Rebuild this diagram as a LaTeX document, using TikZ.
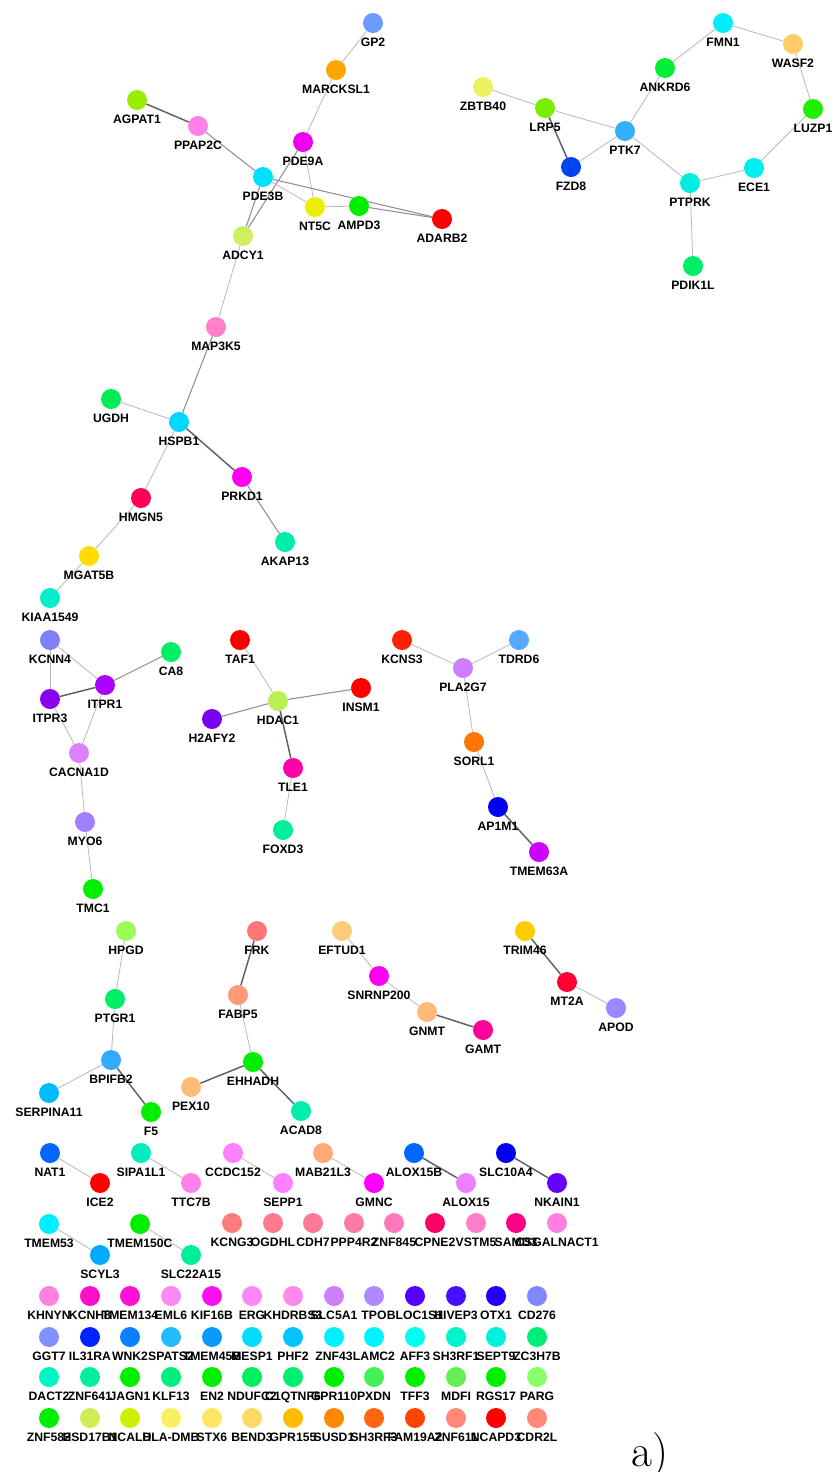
\documentclass[tikz,border=0pt]{standalone}
\usepackage{fontspec}
\newfontfamily\lblfont{Liberation Sans}
\usetikzlibrary{backgrounds}
\definecolor{elt}{HTML}{B8B8BC}
\definecolor{emd}{HTML}{8E8E9A}
\definecolor{edk}{HTML}{5E5E70}
\newcommand{\gnode}[5]{\definecolor{col#1}{HTML}{#5}\node[gene=col#1,label={[lbl]below:#2}] (#1) at (#3,#4) {};}
\begin{document}
\begin{tikzpicture}[x=0.75pt,y=-0.75pt,
  gene/.style={circle,fill=#1,minimum size=15pt,inner sep=0pt,outer sep=0pt},
  lbl/.style={font=\lblfont\bfseries\fontsize{9.15}{10}\selectfont,inner sep=0pt,text=black},
  label distance=3.6pt,
  lt/.style={draw=elt,line width=0.6pt},
  md/.style={draw=emd,line width=0.8pt},
  dk/.style={draw=edk,line width=1.1pt}]
\useasboundingbox (0,0) rectangle (833,1472);
% ---- top left cluster
\gnode{GP2}{GP2}{373}{23}{6B9BFF}
\gnode{MARCKSL1}{MARCKSL1}{336}{70}{FFA500}
\gnode{AGPAT1}{AGPAT1}{137}{100}{99EE00}
\gnode{PPAP2C}{PPAP2C}{198}{126}{FF80E8}
\gnode{PDE9A}{PDE9A}{303}{142}{EE00EE}
\gnode{PDE3B}{PDE3B}{263}{177}{00E0FF}
\gnode{NT5C}{NT5C}{315}{207}{EEEE00}
\gnode{AMPD3}{AMPD3}{359}{206}{00EE00}
\gnode{ADARB2}{ADARB2}{442}{219}{FF0000}
\gnode{ADCY1}{ADCY1}{243}{236}{CCF060}
\gnode{MAPKK}{MAP3K5}{216}{327}{FF80C8}
\gnode{UGDH}{UGDH}{111}{399}{00EE55}
\gnode{HSPB1}{HSPB1}{179}{422}{00D8FF}
\gnode{PRKD1}{PRKD1}{242}{477}{FF00EE}
\gnode{HMGN5}{HMGN5}{141}{498}{FF0055}
\gnode{AKAP13}{AKAP13}{285}{542}{00EEAA}
\gnode{MGAT5B}{MGAT5B}{89}{556}{FFDD00}
\gnode{KIAA1549}{KIAA1549}{50}{598}{00EECC}
% ---- top right cluster
\gnode{FMN1}{FMN1}{723}{23}{00EEFF}
\gnode{WASF2}{WASF2}{793}{44}{FFCC66}
\gnode{ANKRD6}{ANKRD6}{665}{68}{00EE33}
\gnode{ZBTB40}{ZBTB40}{483}{87}{EEF060}
\gnode{LRP5}{LRP5}{545}{108}{77EE00}
\gnode{LUZP1}{LUZP1}{813}{109}{22EE00}
\gnode{PTK7}{PTK7}{625}{131}{33B0FF}
\gnode{FZD8}{FZD8}{571}{167}{0044EE}
\gnode{ECE1}{ECE1}{754}{168}{00EEEE}
\gnode{PTPRK}{PTPRK}{690}{183}{00EEDD}
\gnode{PDIK1L}{PDIK1L}{693}{266}{00EE66}
% ---- middle
\gnode{KCNN4}{KCNN4}{50}{640}{8080FF}
\gnode{CA8}{CA8}{171}{652}{00EE66}
\gnode{ITPR1}{ITPR1}{105}{685}{AA00FF}
\gnode{ITPR3}{ITPR3}{50}{699}{8800EE}
\gnode{CACNA1D}{CACNA1D}{79}{753}{DD80FF}
\gnode{MYO6}{MYO6}{85}{822}{A080FF}
\gnode{TMC1}{TMC1}{93}{889}{00EE00}
\gnode{TAF1}{TAF1}{240}{640}{FF0000}
\gnode{HDAC1}{HDAC1}{278}{701}{BBF055}
\gnode{INSM1}{INSM1}{361}{688}{FF0000}
\gnode{H2AFY2}{H2AFY2}{212}{719}{7700EE}
\gnode{TLE1}{TLE1}{293}{768}{FF00AA}
\gnode{FOXD3}{FOXD3}{283}{830}{00EE99}
\gnode{KCNS3}{KCNS3}{402}{640}{FF2200}
\gnode{TDRD6}{TDRD6}{519}{640}{55AAFF}
\gnode{PLA2G7}{PLA2G7}{463}{668}{CC80FF}
\gnode{SORL1}{SORL1}{474}{742}{FF7700}
\gnode{AP1M1}{AP1M1}{498}{807}{0000EE}
\gnode{TMEM63A}{TMEM63A}{539}{852}{CC00FF}
% ---- lower
\gnode{HPGD}{HPGD}{126}{931}{99FF55}
\gnode{PTGR1}{PTGR1}{115}{999}{00EE66}
\gnode{BPIFB2}{BPIFB2}{111}{1060}{33AAFF}
\gnode{SERPINA11}{SERPINA11}{49}{1093}{00BBFF}
\gnode{F5}{F5}{151}{1112}{00EE00}
\gnode{FRK}{FRK}{257}{931}{FF7777}
\gnode{FABP5}{FABP5}{238}{995}{FF9977}
\gnode{EHHADH}{EHHADH}{253}{1062}{00EE00}
\gnode{PEX10}{PEX10}{191}{1087}{FFBB77}
\gnode{ACAD8}{ACAD8}{301}{1111}{00EEAA}
\gnode{EFTUD1}{EFTUD1}{342}{931}{FFCC77}
\gnode{SNRNP200}{SNRNP200}{379}{976}{FF00EE}
\gnode{GNMT}{GNMT}{427}{1012}{FFBB77}
\gnode{GAMT}{GAMT}{483}{1030}{FF0099}
\gnode{TRIM46}{TRIM46}{525}{931}{FFCC00}
\gnode{MT2A}{MT2A}{567}{982}{FF0033}
\gnode{APOD}{APOD}{616}{1008}{9988FF}
% ---- pairs
\gnode{NAT1}{NAT1}{50}{1153}{0066FF}
\gnode{ICE2}{ICE2}{100}{1183}{FF0000}
\gnode{SIPA1L1}{SIPA1L1}{141}{1153}{00EEBB}
\gnode{TTC7B}{TTC7B}{191}{1183}{FF80E8}
\gnode{CCDC152}{CCDC152}{233}{1153}{FF80FF}
\gnode{SEPP1}{SEPP1}{283}{1183}{FF80FF}
\gnode{MAB21L3}{MAB21L3}{323}{1153}{FFAA77}
\gnode{GMNC}{GMNC}{374}{1183}{FF00FF}
\gnode{ALOX15B}{ALOX15B}{414}{1153}{0066FF}
\gnode{ALOX15}{ALOX15}{466}{1183}{EE80FF}
\gnode{SLC10A4}{SLC10A4}{506}{1153}{0000EE}
\gnode{NKAIN1}{NKAIN1}{557}{1183}{6600FF}
\gnode{TMEM53}{TMEM53}{49}{1224}{00EEFF}
\gnode{SCYL3}{SCYL3}{100}{1255}{00AAFF}
\gnode{TMEM150C}{TMEM150C}{140}{1224}{00EE00}
\gnode{SLC22A15}{SLC22A15}{191}{1255}{00EE99}
% ---- pink row
\gnode{KCNG3}{KCNG3}{232}{1223}{FF7A7A}
\gnode{OGDHL}{OGDHL}{273}{1223}{FF7A8A}
\gnode{CDH7}{CDH7}{313}{1223}{FF7A95}
\gnode{PPP4R2}{PPP4R2}{354}{1223}{FF7AA5}
\gnode{ZNF845}{ZNF845}{394}{1223}{FF78BB}
\gnode{CPNE2}{CPNE2}{435}{1223}{FF0066}
\gnode{VSTM5}{VSTM5}{476}{1223}{FF80C8}
\gnode{SAMD3}{SAMD3}{516}{1223}{FF0088}
\gnode{CSGALNACT1}{CSGALNACT1}{557}{1223}{FF80E0}
% ---- grid row 1
\gnode{KHNYN}{KHNYN}{49}{1296}{FF80E0}
\gnode{KCNH8}{KCNH8}{90}{1296}{FF10C8}
\gnode{TMEM134}{TMEM134}{130}{1296}{FF10D8}
\gnode{EML6}{EML6}{171}{1296}{FF88F0}
\gnode{KIF16B}{KIF16B}{212}{1296}{FF10EE}
\gnode{ERG}{ERG}{252}{1296}{FF88F8}
\gnode{KHDRBS3}{KHDRBS3}{293}{1296}{FF88EE}
\gnode{SLC5A1}{SLC5A1}{334}{1296}{CC80FF}
\gnode{TPO}{TPO}{374}{1296}{B088FF}
\gnode{BLOC1S1}{BLOC1S1}{415}{1296}{5500FF}
\gnode{HIVEP3}{HIVEP3}{456}{1296}{4411FF}
\gnode{OTX1}{OTX1}{496}{1296}{2200FF}
\gnode{CD276}{CD276}{537}{1296}{8088FF}
% ---- grid row 2
\gnode{GGT7}{GGT7}{49}{1337}{8090FF}
\gnode{IL31RA}{IL31RA}{90}{1337}{0022FF}
\gnode{WNK2}{WNK2}{130}{1337}{0A80FF}
\gnode{SPATS2}{SPATS2}{171}{1337}{22BBFF}
\gnode{TMEM45B}{TMEM45B}{212}{1337}{0A99FF}
\gnode{MESP1}{MESP1}{252}{1337}{00DDFF}
\gnode{PHF2}{PHF2}{293}{1337}{00C4FF}
\gnode{ZNF43}{ZNF43}{334}{1337}{00F0FF}
\gnode{LAMC2}{LAMC2}{374}{1337}{00F4FF}
\gnode{AFF3}{AFF3}{415}{1337}{00FFEE}
\gnode{SH3RF1}{SH3RF1}{456}{1337}{00F4CC}
\gnode{SEPT9}{SEPT9}{496}{1337}{00F0DD}
\gnode{ZC3H7B}{ZC3H7B}{537}{1337}{00EE77}
% ---- grid row 3
\gnode{DACT2}{DACT2}{49}{1377}{00F4C4}
\gnode{ZNF641}{ZNF641}{90}{1377}{00EEA0}
\gnode{JAGN1}{JAGN1}{130}{1377}{00EE00}
\gnode{KLF13}{KLF13}{171}{1377}{00EE80}
\gnode{EN2}{EN2}{212}{1377}{00EE00}
\gnode{NDUFC2}{NDUFC2}{252}{1377}{00EE60}
\gnode{C1QTNF6}{C1QTNF6}{293}{1377}{00EE70}
\gnode{GPR110}{GPR110}{334}{1377}{00EE00}
\gnode{PXDN}{PXDN}{374}{1377}{44F055}
\gnode{TFF3}{TFF3}{415}{1377}{00EE00}
\gnode{MDFI}{MDFI}{456}{1377}{66EE55}
\gnode{RGS17}{RGS17}{496}{1377}{00EE00}
\gnode{PARG}{PARG}{537}{1377}{88FF66}
% ---- grid row 4
\gnode{ZNF582}{ZNF582}{49}{1418}{00EE00}
\gnode{HSD17B1}{HSD17B1}{90}{1418}{CCEE55}
\gnode{NCALD}{NCALD}{130}{1418}{CCF000}
\gnode{HLADMB}{HLA-DMB}{171}{1418}{F8F060}
\gnode{STX6}{STX6}{212}{1418}{FFE566}
\gnode{BEND3}{BEND3}{252}{1418}{FFD966}
\gnode{GPR155}{GPR155}{293}{1418}{FFBB00}
\gnode{SUSD1}{SUSD1}{334}{1418}{FF8800}
\gnode{SH3RF3}{SH3RF3}{374}{1418}{FF6611}
\gnode{FAM19A2}{FAM19A2}{415}{1418}{FF4400}
\gnode{ZNF611}{ZNF611}{456}{1418}{FF8877}
\gnode{NCAPD3}{NCAPD3}{496}{1418}{FF0000}
\gnode{CDR2L}{CDR2L}{537}{1418}{FF8877}
% ---- panel tag
\node[font=\fontsize{34}{40}\selectfont,anchor=base,inner sep=0pt] (tag) at (650,1466) {a)};
% ---- edges
\begin{scope}[on background layer]
\draw[lt] (GP2) -- (MARCKSL1);
\draw[lt] (MARCKSL1) -- (PDE9A);
\draw[dk] (AGPAT1) -- (PPAP2C);
\draw[md] (PPAP2C) -- (PDE3B);
\draw[lt] (PDE9A) -- (NT5C);
\draw[md] (PDE9A) -- (ADCY1);
\draw[md] (PDE3B) -- (ADCY1);
\draw[lt] (PDE3B) -- (NT5C);
\draw[md] (PDE3B) -- (ADARB2);
\draw[lt] (NT5C) -- (AMPD3);
\draw[md] (AMPD3) -- (ADARB2);
\draw[lt] (ADCY1) -- (MAPKK);
\draw[md] (MAPKK) -- (HSPB1);
\draw[lt] (UGDH) -- (HSPB1);
\draw[dk] (HSPB1) -- (PRKD1);
\draw[md] (PRKD1) -- (AKAP13);
\draw[lt] (HSPB1) -- (HMGN5);
\draw[lt] (HMGN5) -- (MGAT5B);
\draw[lt] (MGAT5B) -- (KIAA1549);
\draw[lt] (ZBTB40) -- (LRP5);
\draw[lt] (LRP5) -- (PTK7);
\draw[dk] (LRP5) -- (FZD8);
\draw[lt] (FZD8) -- (PTK7);
\draw[lt] (PTK7) -- (ANKRD6);
\draw[lt] (ANKRD6) -- (FMN1);
\draw[lt] (FMN1) -- (WASF2);
\draw[lt] (WASF2) -- (LUZP1);
\draw[lt] (LUZP1) -- (ECE1);
\draw[lt] (ECE1) -- (PTPRK);
\draw[lt] (PTK7) -- (PTPRK);
\draw[lt] (PTPRK) -- (PDIK1L);
\draw[lt] (KCNN4) -- (ITPR3);
\draw[lt] (KCNN4) -- (ITPR1);
\draw[dk] (ITPR3) -- (ITPR1);
\draw[md] (ITPR1) -- (CA8);
\draw[lt] (ITPR3) -- (CACNA1D);
\draw[lt] (ITPR1) -- (CACNA1D);
\draw[lt] (CACNA1D) -- (MYO6);
\draw[lt] (MYO6) -- (TMC1);
\draw[lt] (TAF1) -- (HDAC1);
\draw[md] (HDAC1) -- (INSM1);
\draw[md] (HDAC1) -- (H2AFY2);
\draw[dk] (HDAC1) -- (TLE1);
\draw[lt] (TLE1) -- (FOXD3);
\draw[lt] (KCNS3) -- (PLA2G7);
\draw[lt] (TDRD6) -- (PLA2G7);
\draw[lt] (PLA2G7) -- (SORL1);
\draw[lt] (SORL1) -- (AP1M1);
\draw[dk] (AP1M1) -- (TMEM63A);
\draw[lt] (HPGD) -- (PTGR1);
\draw[lt] (PTGR1) -- (BPIFB2);
\draw[lt] (BPIFB2) -- (SERPINA11);
\draw[dk] (BPIFB2) -- (F5);
\draw[dk] (FRK) -- (FABP5);
\draw[lt] (FABP5) -- (EHHADH);
\draw[dk] (EHHADH) -- (PEX10);
\draw[dk] (EHHADH) -- (ACAD8);
\draw[lt] (EFTUD1) -- (SNRNP200);
\draw[lt] (SNRNP200) -- (GNMT);
\draw[dk] (GNMT) -- (GAMT);
\draw[dk] (TRIM46) -- (MT2A);
\draw[lt] (MT2A) -- (APOD);
\draw[lt] (NAT1) -- (ICE2);
\draw[lt] (SIPA1L1) -- (TTC7B);
\draw[lt] (CCDC152) -- (SEPP1);
\draw[lt] (MAB21L3) -- (GMNC);
\draw[dk] (ALOX15B) -- (ALOX15);
\draw[dk] (SLC10A4) -- (NKAIN1);
\draw[lt] (TMEM53) -- (SCYL3);
\draw[lt] (TMEM150C) -- (SLC22A15);
\end{scope}
\end{tikzpicture}
\end{document}
